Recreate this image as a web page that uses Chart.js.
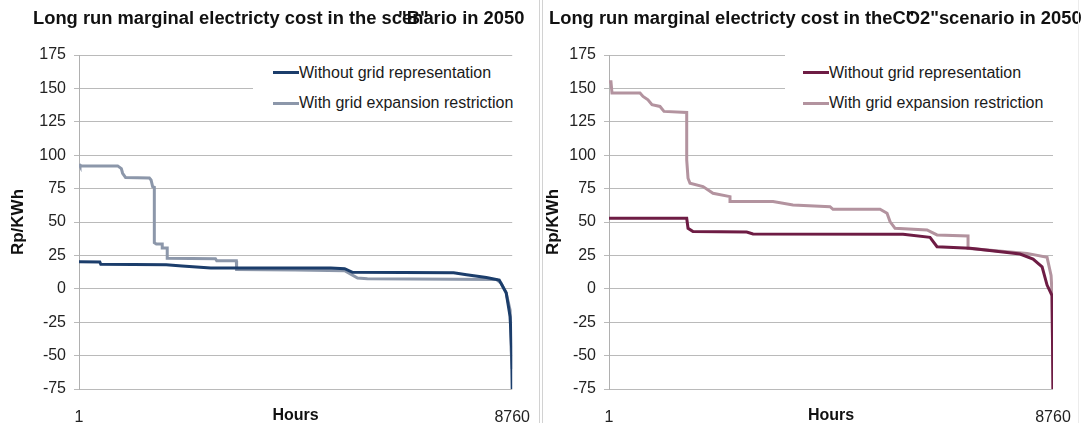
<!DOCTYPE html>
<html>
<head>
<meta charset="utf-8">
<script src="https://cdn.jsdelivr.net/npm/chart.js@4.4.0/dist/chart.umd.min.js"></script>
<style>
  body { margin: 0; background: #fff; }
  #page { position: relative; width: 1085px; height: 423px; overflow: hidden; font-family: "Liberation Sans", Arial, sans-serif; }
  canvas { position: absolute; top: 0; }
  .title { position: absolute; top: 7px; font-weight: bold; font-size: 18.35px; line-height: 22px; color: #111; white-space: nowrap; z-index: 2; }
  .ov { display: inline-block; width: 0; position: relative; }
  .legend-box { position: absolute; background: #fff; z-index: 2; }
  .legend-row { position: absolute; display: flex; align-items: center; height: 20px; font-size: 16px; color: #1a1a1a; white-space: nowrap; z-index: 3; }
  .legend-row i { display: block; width: 26px; height: 3px; }
  .vline { position: absolute; top: 0; width: 1px; height: 423px; z-index: 4; }
</style>
</head>
<body>
<div id="page">
  <canvas id="leftChart" width="541" height="423" style="left:0"></canvas>
  <canvas id="rightChart" width="543" height="423" style="left:542px"></canvas>
  <div class="title" style="left:33px">Long run marginal electricty cost in the sc<span class="ov" style="left:-4px">"B"</span>enario in 2050</div>
  <div class="title" style="left:549px">Long run marginal electricty cost in theC<span class="ov">"</span>O2"scenario in 2050</div>
  <div class="vline" style="left:539px;background:#d2d2d2"></div>
  <div class="vline" style="left:542px;background:#d2d2d2"></div>
  <div class="vline" style="left:1078px;background:#ececec"></div>
</div>
<script>
// axis ticks
const xTicks = [1, 8760];
const yTicks = [-75, -50, -25, 0, 25, 50, 75, 100, 125, 150, 175];
const seriesLabels = ['Without grid representation', 'With grid expansion restriction'];

// "B" scenario
const bWithoutHours = [1, 422, 442, 1765, 2085, 2666, 5092, 5372, 5532, 7576, 7837, 8238, 8498, 8638, 8718, 8748, 8760];
const bWithoutValues = [20.3, 20, 18.3, 18, 17, 15.5, 15.5, 15, 12.3, 12, 10.5, 8.5, 6.5, -3, -21, -45, -75];
const bRestrictHours = [1, 21, 783, 857, 883, 943, 1424, 1458, 1490, 1524, 1524, 1564, 1684, 1684, 1785, 1785, 2760, 2786, 3182, 3188, 4370, 5372, 5633, 5833, 8438, 8538, 8638, 8718, 8738, 8760];
const bRestrictValues = [93.5, 92, 92, 90, 86.5, 83.3, 83, 81.5, 76.5, 76, 34.5, 33.5, 33.5, 30.5, 30.5, 22.8, 22.5, 21, 21, 14.5, 14, 13.5, 8, 7.5, 7, 4, -3, -16, -46, -60];

// "CO2" scenario
const co2WithoutHours = [1, 1534, 1560, 1658, 2718, 2842, 5802, 6334, 6472, 7124, 8110, 8367, 8545, 8643, 8741, 8760];
const co2WithoutValues = [52.8, 52.8, 45.3, 42.8, 42.5, 41, 40.8, 38.5, 31.5, 30.3, 26, 22.3, 16.5, 2.8, -5, -75];
const co2RestrictHours = [1, 40, 60, 613, 672, 770, 849, 1007, 1086, 1534, 1534, 1560, 1599, 1856, 2053, 2388, 2388, 3237, 3631, 4361, 4420, 5348, 5486, 5545, 5644, 6275, 6472, 7084, 7084, 8248, 8643, 8722, 8741, 8760];
const co2RestrictValues = [155, 155, 146.5, 146.5, 144, 141.5, 137.8, 136.5, 132.8, 132, 96.5, 82.8, 79, 76.5, 71.5, 69, 65.3, 65.3, 62.8, 61.5, 59.5, 59.5, 56.5, 50.3, 45.3, 44, 40.3, 39.5, 30.3, 26.5, 23.5, 10, -3, -75];

Chart.defaults.font.family = '"Liberation Sans", Arial, sans-serif';

function toPoints(hours, values) {
    return hours.map((h, i) => ({ x: h, y: values[i] }));
}

function makeChart(id, cfg) {
    const datasets = cfg.series.map((s, i) => ({
        label: seriesLabels[i],
        data: toPoints(s.hours, s.values),
        borderColor: s.color,
        borderWidth: 3,
        pointRadius: 0,
        tension: 0,
        fill: false
    }));

    return new Chart(document.getElementById(id), {
        type: 'line',
        data: { datasets },
        options: {
            responsive: false,
            animation: false,
            devicePixelRatio: 1,
            layout: { padding: { top: 55, right: cfg.padRight, left: 0, bottom: 0 } },
            plugins: { legend: { display: false }, title: { display: false }, tooltip: { enabled: false } },
            scales: {
                x: {
                    type: 'linear',
                    min: xTicks[0],
                    max: xTicks[xTicks.length - 1],
                    afterBuildTicks: s => { s.ticks = xTicks.map(v => ({ value: v })); },
                    afterFit: s => { s.height = 34; },
                    grid: { display: false },
                    border: { display: false },
                    ticks: { padding: 11, color: '#222', font: { size: 16 }, maxRotation: 0, autoSkip: false, callback: v => String(v) },
                    title: { display: true, text: 'Hours', color: '#111', font: { size: 16, weight: 'bold' }, padding: { top: 0, bottom: -2 } }
                },
                y: {
                    min: yTicks[0],
                    max: yTicks[yTicks.length - 1],
                    afterBuildTicks: s => { s.ticks = yTicks.map(v => ({ value: v })); },
                    afterFit: s => { s.width = cfg.axisWidth; },
                    grid: { color: '#bababa', tickLength: 5 },
                    border: { color: '#b0b0b0' },
                    ticks: { padding: 8, color: '#222', font: { size: 16 } },
                    title: { display: true, text: 'Rp/KWh', color: '#111', font: { size: 17, weight: 'bold' }, padding: { top: cfg.titlePad, bottom: 0 } }
                }
            }
        }
    });
}

function addLegend(box, rowLeft, rowCenters, colors) {
    const page = document.getElementById('page');
    const bg = document.createElement('div');
    bg.className = 'legend-box';
    Object.assign(bg.style, { left: box[0] + 'px', top: box[1] + 'px', width: box[2] + 'px', height: box[3] + 'px' });
    page.appendChild(bg);
    seriesLabels.forEach((label, i) => {
        const row = document.createElement('div');
        row.className = 'legend-row';
        row.style.left = rowLeft + 'px';
        row.style.top = (rowCenters[i] - 10) + 'px';
        row.innerHTML = `<i style="background:${colors[i]}"></i><span>${label}</span>`;
        page.appendChild(row);
    });
}

const bColors = ['#1b3d6b', '#8c97aa'];
const co2Colors = ['#6e1c44', '#b3939f'];

makeChart('leftChart', {
    axisWidth: 79, titlePad: 8, padRight: 25,
    series: [
        { hours: bWithoutHours, values: bWithoutValues, color: bColors[0] },
        { hours: bRestrictHours, values: bRestrictValues, color: bColors[1] }
    ]
});

makeChart('rightChart', {
    axisWidth: 67, titlePad: 1, padRight: 32,
    series: [
        { hours: co2WithoutHours, values: co2WithoutValues, color: co2Colors[0] },
        { hours: co2RestrictHours, values: co2RestrictValues, color: co2Colors[1] }
    ]
});

addLegend([253, 60, 265, 58], 273, [72.7, 103], bColors);
addLegend([785, 48, 270, 70], 803, [72.7, 103], co2Colors);
</script>
</body>
</html>
